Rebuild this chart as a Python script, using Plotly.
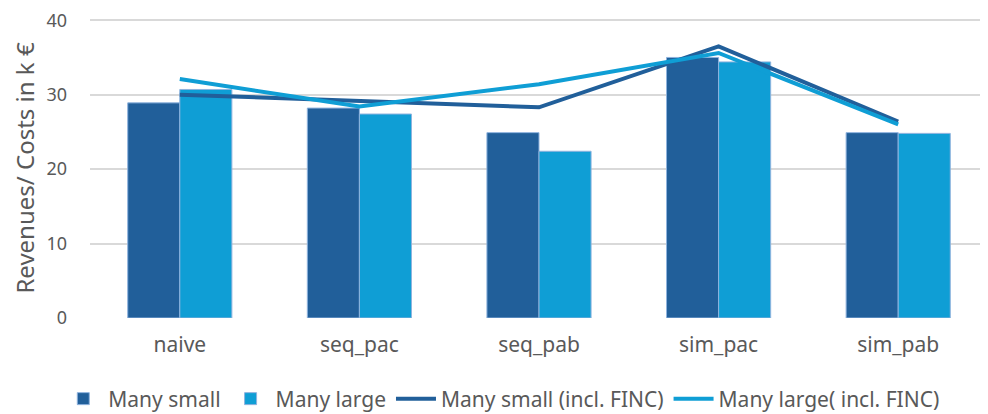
import plotly.graph_objects as go

categories = ["naive", "seq_pac", "seq_pab", "sim_pac", "sim_pab"]
many_small = [28.9, 28.2, 24.9, 35.0, 24.9]
many_large = [30.7, 27.4, 22.4, 34.4, 24.8]
many_small_finc = [30.0, 29.2, 28.3, 36.5, 26.4]
many_large_finc = [32.1, 28.4, 31.4, 35.6, 26.0]
y_ticks = [0, 10, 20, 30, 40]

DARK = "#215F9A"
LIGHT = "#0F9ED5"
FONT = "Noto Sans"
GRAY = "#595959"

fig = go.Figure()
fig.add_trace(go.Bar(x=categories, y=many_small, name="Many small",
                     marker=dict(color=DARK, line=dict(color="#8FB3DE", width=1))))
fig.add_trace(go.Bar(x=categories, y=many_large, name="Many large",
                     marker=dict(color=LIGHT, line=dict(color="#8FB3DE", width=1))))
fig.add_trace(go.Scatter(x=categories, y=many_small_finc, name="Many small (incl. FINC)",
                         mode="lines", line=dict(color=DARK, width=4)))
fig.add_trace(go.Scatter(x=categories, y=many_large_finc, name="Many large( incl. FINC)",
                         mode="lines", line=dict(color=LIGHT, width=4)))

fig.update_layout(
    width=980, height=406,
    margin=dict(l=82, r=0, t=10, b=96, autoexpand=False),
    plot_bgcolor="white", paper_bgcolor="white",
    barmode="group", bargap=0.42, bargroupgap=0,
    font=dict(family=FONT, color=GRAY, size=18),
    showlegend=True,
    legend=dict(orientation="h", x=0.458, xanchor="center", yref="container", y=0.037,
                yanchor="middle", font=dict(size=21, color=GRAY), itemwidth=40, tracegroupgap=0),
    xaxis=dict(showgrid=False, showline=False, ticks="", tickfont=dict(size=21, color=GRAY),
               ticklabelstandoff=12, automargin=False),
    yaxis=dict(range=[0, 40.3], tickvals=y_ticks, showgrid=True, gridcolor="#D9D9D9", gridwidth=1.5,
               zeroline=False, showline=False, ticks="", tickfont=dict(size=18, color=GRAY),
               ticklabelstandoff=22, ticklabeloverflow="allow", automargin=False,
               title=dict(text="Revenues/ Costs in k €", font=dict(size=24, color=GRAY), standoff=19)),
)

fig.write_html("out.html")
